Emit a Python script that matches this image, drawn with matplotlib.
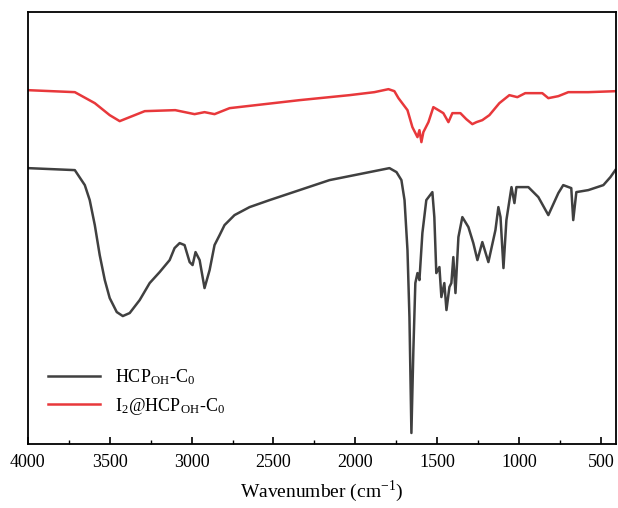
import numpy as np
import matplotlib.pyplot as plt

plt.rcParams['font.family'] = ['Liberation Serif', 'DejaVu Serif']
plt.rcParams['mathtext.fontset'] = 'stix'

# HCP_OH-C0 spectrum (wavenumber, transmittance a.u.)
wn_hcp = [4000, 3713, 3652, 3622, 3591, 3561, 3530, 3500, 3457, 3420, 3378, 3317,
          3256, 3195, 3134, 3104, 3073, 3043, 3012, 2994, 2976, 2951, 2921, 2890,
          2860, 2829, 2799, 2738, 2646, 2524, 2341, 2158, 2036, 1975, 1914, 1853,
          1792, 1749, 1719, 1700, 1682, 1670, 1658, 1646, 1634, 1621, 1609, 1591,
          1567, 1530, 1518, 1506, 1487, 1475, 1457, 1444, 1426, 1414, 1402, 1389,
          1371, 1347, 1310, 1280, 1255, 1225, 1188, 1145, 1127, 1114, 1096, 1078,
          1047, 1029, 1017, 944, 883, 822, 761, 731, 682, 670, 651, 578, 486, 443, 413]
tr_hcp = [276, 274, 259, 244, 219, 189, 164, 146, 132, 128, 131, 144, 161, 172,
          184, 196, 201, 199, 182, 179, 192, 184, 156, 174, 199, 209, 219, 229, 237,
          244, 254, 264, 268, 270, 272, 274, 276, 272, 264, 244, 194, 127, 11, 94,
          161, 171, 164, 211, 244, 252, 227, 171, 177, 147, 161, 134, 157, 161, 187,
          151, 207, 227, 217, 201, 184, 202, 182, 214, 237, 227, 176, 224, 257, 241,
          257, 257, 247, 229, 251, 259, 256, 224, 252, 254, 259, 267, 274]

# I2@HCP_OH-C0 spectrum
wn_i2 = [4000, 3713, 3591, 3500, 3439, 3378, 3286, 3100, 2982, 2921, 2860, 2768,
         2341, 2036, 1884, 1798, 1762, 1737, 1682, 1652, 1621, 1609, 1597, 1585,
         1554, 1524, 1493, 1463, 1432, 1408, 1359, 1323, 1286, 1261, 1225, 1182,
         1121, 1060, 1011, 963, 859, 822, 761, 700, 578, 407]
tr_i2 = [354, 352, 341, 329, 323, 327, 333, 334, 330, 332, 330, 336, 344, 349,
         352, 355, 353, 346, 334, 317, 307, 314, 302, 312, 322, 337, 334, 331, 322,
         331, 331, 325, 320, 322, 324, 329, 341, 349, 347, 351, 351, 346, 348, 352,
         352, 353]

fig = plt.figure(figsize=(6.18, 5.08), dpi=100)
ax = fig.add_axes([0.045, 0.126, 0.952, 0.85])

ax.plot(wn_hcp, tr_hcp, color='#404040', lw=1.8, label='HCP$_{\\mathregular{OH}}$-C$_{\\mathregular{0}}$')
ax.plot(wn_i2, tr_i2, color='#e8383b', lw=1.8, label='I$_{\\mathregular{2}}$@HCP$_{\\mathregular{OH}}$-C$_{\\mathregular{0}}$')

ax.set_xlim(4000, 408)
ax.set_ylim(0, 432)
ax.set_yticks([])
ax.set_xticks(np.arange(4000, 400, -500))
ax.set_xticks(np.arange(3750, 400, -500), minor=True)
ax.tick_params(axis='x', which='major', direction='in', length=5, width=1.2,
               labelsize=13, pad=7)
ax.tick_params(axis='x', which='minor', direction='in', length=3, width=1.0)
for s in ax.spines.values():
    s.set_linewidth(1.3)

ax.set_xlabel('Wavenumber (cm$^{\\mathregular{-1}}$)', fontsize=14, labelpad=6)
ax.legend(loc='lower left', frameon=False, fontsize=13, handlelength=2.9,
          borderaxespad=0.4, bbox_to_anchor=(0.01, 0.03))

fig.savefig('out.png', dpi=100)
